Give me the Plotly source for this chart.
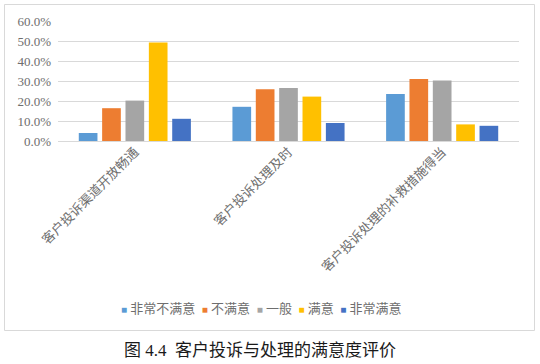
import plotly.graph_objects as go

categories = ["客户投诉渠道开放畅通", "客户投诉处理及时", "客户投诉处理的补救措施得当"]
series_names = ["非常不满意", "不满意", "一般", "满意", "非常满意"]
very_unsatisfied = [0.040, 0.171, 0.235]
unsatisfied = [0.164, 0.259, 0.310]
neutral = [0.202, 0.265, 0.303]
satisfied = [0.493, 0.222, 0.083]
very_satisfied = [0.111, 0.090, 0.076]
y_ticks = [0, 0.1, 0.2, 0.3, 0.4, 0.5, 0.6]
caption = "图 4.4  客户投诉与处理的满意度评价"

colors = ["#5B9BD5", "#ED7D31", "#A5A5A5", "#FFC000", "#4472C4"]
values = [very_unsatisfied, unsatisfied, neutral, satisfied, very_satisfied]

FONT = "Liberation Serif, Times New Roman, Noto Sans CJK SC, serif"
TXT = "#6E6E6E"

fig = go.Figure()
for name, vals, col in zip(series_names, values, colors):
    fig.add_trace(go.Bar(x=categories, y=vals, name=name, marker_color=col,
                         marker_line_width=0, showlegend=False))

# plot area: x 58..519, y 21..141
L, R, T, B = 58, 519, 21, 141
W, H = R - L, B - T

def px(x):
    return (x - L) / W

def py(y):
    return (B - y) / H

legend_text = "  ".join(
    f"<span style='color:{c}; font-size:10px'>■</span> {n}" for n, c in zip(series_names, colors)
)

fig.update_layout(
    width=540, height=364,
    margin=dict(l=L, r=540 - R, t=T, b=364 - B, autoexpand=False),
    paper_bgcolor="white", plot_bgcolor="white",
    barmode="group", bargap=0.24, bargroupgap=0.2,
    font=dict(family=FONT, color=TXT, size=13),
    xaxis=dict(tickangle=-45, showgrid=False, showline=False, ticks="", automargin=False,
               tickfont=dict(size=13, color=TXT)),
    yaxis=dict(range=[0, 0.6], tickvals=y_ticks, tickformat=".1%", automargin=False,
               showgrid=True, gridcolor="#D9D9D9", gridwidth=1,
               zeroline=True, zerolinecolor="#D9D9D9", zerolinewidth=1,
               showline=False, ticks="", ticklabelstandoff=6,
               tickfont=dict(size=13, color=TXT)),
    shapes=[dict(type="rect", xref="paper", yref="paper",
                 x0=px(4.5), x1=px(534.5), y0=py(330.5), y1=py(4.5),
                 line=dict(color="#D9D9D9", width=1), fillcolor="rgba(0,0,0,0)", layer="below")],
    annotations=[
        dict(text=legend_text, xref="paper", yref="paper", x=px(261), y=py(308),
             xanchor="center", yanchor="middle", showarrow=False,
             font=dict(size=13, color=TXT, family=FONT)),
        dict(text=caption, xref="paper", yref="paper", x=px(260), y=py(350),
             xanchor="center", yanchor="middle", showarrow=False,
             font=dict(size=17, color="#1A1A1A", family=FONT)),
    ],
)

fig.write_html("out.html", config={"displayModeBar": False},
               post_script="document.body.style.margin='0';")
